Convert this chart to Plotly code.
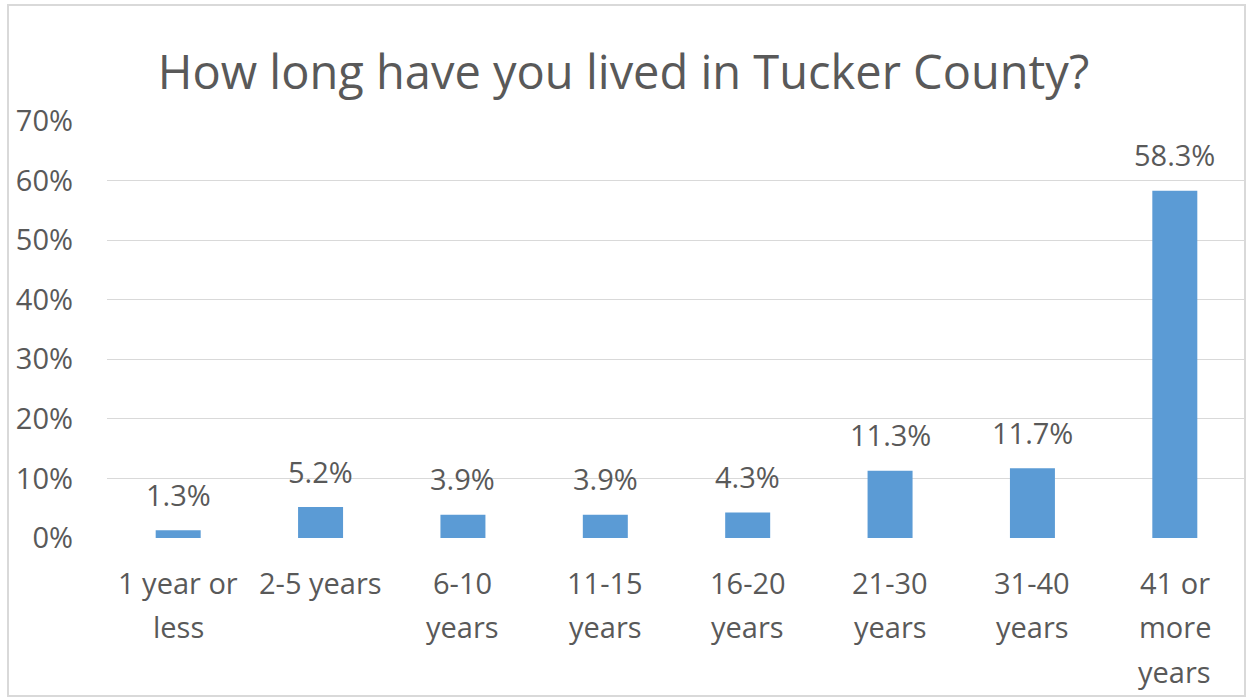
import plotly.graph_objects as go

categories = ["1 year or<br>less", "2-5 years", "6-10<br>years", "11-15<br>years",
              "16-20<br>years", "21-30<br>years", "31-40<br>years", "41 or<br>more<br>years"]
values = [1.3, 5.2, 3.9, 3.9, 4.3, 11.3, 11.7, 58.3]
y_ticks = [0, 10, 20, 30, 40, 50, 60, 70]
title = "How long have you lived in Tucker County?"

FONT = "Open Sans"
TXT = "#595959"
W, H = 1247, 698
L, R, T, B = 107, 1, 121, 160

fig = go.Figure(go.Bar(x=list(range(len(categories))), y=values,
                       marker=dict(color="#5B9BD5", line=dict(width=0)),
                       width=0.316, hoverinfo="skip"))

ann = []
for i, (c, v) in enumerate(zip(categories, values)):
    ann.append(dict(x=i, y=v, xref="x", yref="y", text=f"{v:.1f}%", showarrow=False,
                    yshift=36, font=dict(family=FONT, size=29, color=TXT)))
    for j, line in enumerate(c.split("<br>")):
        ann.append(dict(x=i, y=0, xref="x", yref="y", text=line, showarrow=False,
                        yshift=-44 - 44.5 * j, font=dict(family=FONT, size=29, color=TXT)))

pw = W - L - R
ph = H - T - B
fig.add_shape(type="rect", xref="paper", yref="paper",
              x0=(8 - L) / pw, x1=(1245 - L) / pw,
              y0=(H - B - 696) / ph, y1=(H - B - 5) / ph,
              line=dict(color="#D9D9D9", width=2), fillcolor="rgba(0,0,0,0)", layer="below")

fig.update_layout(
    width=W, height=H, margin=dict(l=L, r=R, t=T, b=B),
    paper_bgcolor="white", plot_bgcolor="white",
    title=dict(text=title, x=0.5, xanchor="center", y=1 - 73 / H, yanchor="middle",
               font=dict(family=FONT, size=47, color=TXT)),
    xaxis=dict(range=[-0.5, len(categories) - 0.5], showticklabels=False, showgrid=False,
               zeroline=False, showline=False, ticks=""),
    yaxis=dict(range=[0, 70], tickvals=y_ticks, ticktext=[f"{t}%" for t in y_ticks],
               showgrid=True, gridcolor="#D9D9D9", gridwidth=1.3, zeroline=False,
               showline=False, ticks="", ticklabelstandoff=33,
               tickfont=dict(family=FONT, size=29, color=TXT)),
    annotations=ann, showlegend=False,
)
fig.write_html("out.html")
